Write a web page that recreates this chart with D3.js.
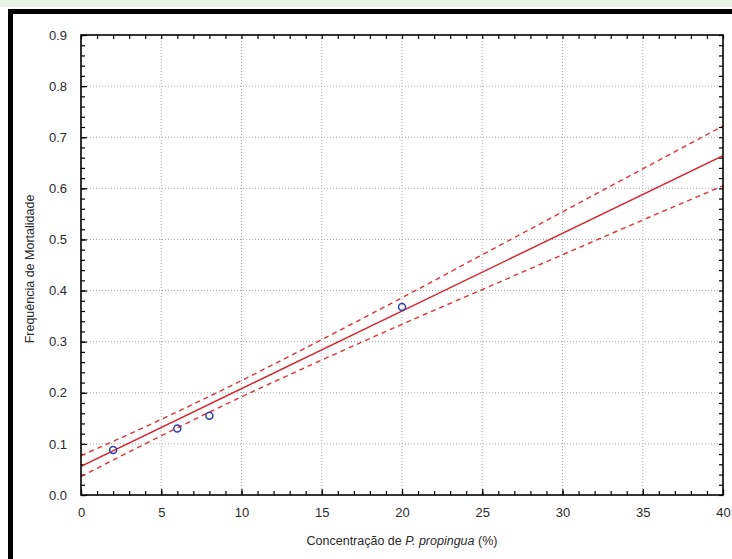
<!DOCTYPE html>
<html lang="pt">
<head>
<meta charset="utf-8">
<title>Frequência de Mortalidade</title>
<script src="https://d3js.org/d3.v7.min.js"></script>
<style>
  body { margin: 0; background: #ffffff; }
  svg { display: block; font-family: "Liberation Sans", Arial, sans-serif; }
  .grid line { stroke: #a8a8a8; stroke-dasharray: 1,2; }
  .tick text { font-size: 13px; fill: #2a2a2a; }
</style>
</head>
<body>
<script>
// observed points
var concX = [2, 6, 8, 20];
var mortY = [0.088, 0.130, 0.155, 0.368];

// fitted line
var fitX = [0, 40];
var fitY = [0.056, 0.664];

// confidence band
var bandX = [0, 5, 10, 15, 20, 25, 30, 35, 40];
var bandUpper = [0.077, 0.148, 0.224, 0.304, 0.386, 0.470, 0.554, 0.638, 0.722];
var bandLower = [0.036, 0.116, 0.192, 0.264, 0.334, 0.402, 0.470, 0.538, 0.605];

var xTicks = [0, 5, 10, 15, 20, 25, 30, 35, 40];
var yTicks = [0, 0.1, 0.2, 0.3, 0.4, 0.5, 0.6, 0.7, 0.8, 0.9];

var width = 732, height = 559;
var pLeft = 81, pRight = 723, pTop = 35, pBottom = 495;

var svg = d3.select("body").append("svg")
    .attr("width", width)
    .attr("height", height);

// page frame
svg.append("rect").attr("x", 0).attr("y", 0).attr("width", width).attr("height", 7).attr("fill", "#eaf4e2");
svg.append("rect").attr("x", 8).attr("y", 9).attr("width", width - 8).attr("height", 5).attr("fill", "#000");
svg.append("rect").attr("x", 8).attr("y", 9).attr("width", 5).attr("height", height - 9).attr("fill", "#000");

var x = d3.scaleLinear().domain([0, 40]).range([pLeft, pRight]);
var y = d3.scaleLinear().domain([0, 0.9]).range([pBottom, pTop]);

// grid
var grid = svg.append("g").attr("class", "grid");
grid.selectAll(".gx").data(xTicks.slice(1, -1)).enter().append("line")
    .attr("x1", d => x(d)).attr("x2", d => x(d))
    .attr("y1", pTop).attr("y2", pBottom);
grid.selectAll(".gy").data(yTicks.slice(1, -1)).enter().append("line")
    .attr("x1", pLeft).attr("x2", pRight)
    .attr("y1", d => y(d)).attr("y2", d => y(d));

// minor ticks
var xMinor = d3.range(0, 41, 1);
var yMinor = d3.range(0, 46, 1).map(d => d * 0.02);

function tickAxis(axis, g, ticks) {
  g.call(axis.tickValues(ticks).tickFormat(""));
  g.select(".domain").remove();
  g.selectAll(".tick line").attr("stroke", "#000").attr("stroke-width", 1.2);
}

tickAxis(d3.axisBottom(x).tickSize(-4), svg.append("g").attr("transform", "translate(0," + pBottom + ")"), xMinor);
tickAxis(d3.axisTop(x).tickSize(-4), svg.append("g").attr("transform", "translate(0," + pTop + ")"), xMinor);
tickAxis(d3.axisLeft(y).tickSize(-4), svg.append("g").attr("transform", "translate(" + pLeft + ",0)"), yMinor);
tickAxis(d3.axisRight(y).tickSize(-4), svg.append("g").attr("transform", "translate(" + pRight + ",0)"), yMinor);

// labelled axes
var gx = svg.append("g").attr("transform", "translate(0," + pBottom + ")")
    .call(d3.axisBottom(x).tickValues(xTicks).tickSize(-6).tickPadding(13).tickFormat(d3.format("d")));
gx.select(".domain").remove();
gx.selectAll(".tick line").attr("stroke", "#000").attr("stroke-width", 1.2);

var gy = svg.append("g").attr("transform", "translate(" + pLeft + ",0)")
    .call(d3.axisLeft(y).tickValues(yTicks).tickSize(-6).tickPadding(14).tickFormat(d3.format(".1f")));
gy.select(".domain").remove();
gy.selectAll(".tick line").attr("stroke", "#000").attr("stroke-width", 1.2);

// clip
svg.append("clipPath").attr("id", "plotclip").append("rect")
    .attr("x", pLeft).attr("y", pTop).attr("width", pRight - pLeft).attr("height", pBottom - pTop);
var plot = svg.append("g").attr("clip-path", "url(#plotclip)");

var bandLine = d3.line().curve(d3.curveMonotoneX).x(d => x(d[0])).y(d => y(d[1]));

plot.append("path")
    .datum(bandX.map((d, i) => [d, bandUpper[i]]))
    .attr("d", bandLine)
    .attr("fill", "none").attr("stroke", "#e0303a").attr("stroke-width", 1.4)
    .attr("stroke-dasharray", "5,4");
plot.append("path")
    .datum(bandX.map((d, i) => [d, bandLower[i]]))
    .attr("d", bandLine)
    .attr("fill", "none").attr("stroke", "#e0303a").attr("stroke-width", 1.4)
    .attr("stroke-dasharray", "5,4");

plot.append("path")
    .datum(fitX.map((d, i) => [d, fitY[i]]))
    .attr("d", d3.line().x(d => x(d[0])).y(d => y(d[1])))
    .attr("fill", "none").attr("stroke", "#d42a30").attr("stroke-width", 1.5);

plot.selectAll("circle").data(concX).enter().append("circle")
    .attr("cx", d => x(d))
    .attr("cy", (d, i) => y(mortY[i]))
    .attr("r", 3.5)
    .attr("fill", "none")
    .attr("stroke", "#2a3fb0")
    .attr("stroke-width", 1.5);

// frame
svg.append("rect")
    .attr("x", pLeft).attr("y", pTop).attr("width", pRight - pLeft).attr("height", pBottom - pTop)
    .attr("fill", "none").attr("stroke", "#000").attr("stroke-width", 1.6);

// axis titles
var xt = svg.append("text")
    .attr("x", (pLeft + pRight) / 2).attr("y", 545)
    .attr("text-anchor", "middle")
    .attr("font-size", 12.5).attr("fill", "#2a2a2a");
xt.append("tspan").text("Concentração de ");
xt.append("tspan").attr("font-style", "italic").text("P. propingua");
xt.append("tspan").text(" (%)");

svg.append("text")
    .attr("transform", "translate(34," + ((pTop + pBottom) / 2 + 4) + ") rotate(-90)")
    .attr("text-anchor", "middle")
    .attr("font-size", 12.5).attr("fill", "#2a2a2a")
    .text("Frequência de Mortalidade");
</script>
</body>
</html>
